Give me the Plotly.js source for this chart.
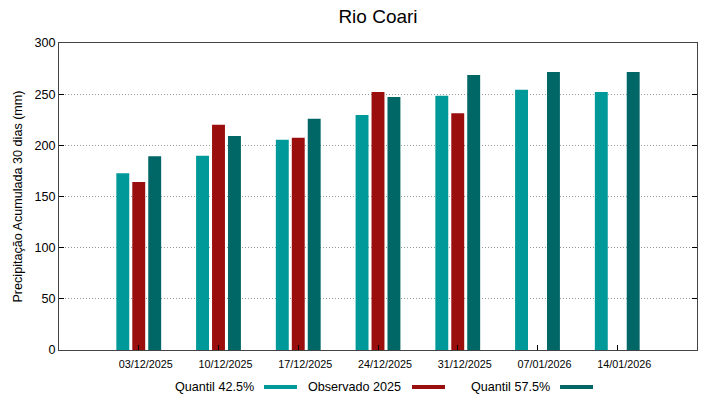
<!DOCTYPE html>
<html>
<head>
<meta charset="utf-8">
<script src="https://cdn.plot.ly/plotly-3.0.1.min.js"></script>
<style>html,body{margin:0;padding:0;background:#fff;}#chart{width:719px;height:399px;}</style>
</head>
<body>
<div id="chart"></div>
<script>
const categories = ["03/12/2025","10/12/2025","17/12/2025","24/12/2025","31/12/2025","07/01/2026","14/01/2026"];
const seriesNames = ["Quantil 42.5%","Observado 2025","Quantil 57.5%"];
const quantil425 = [172.7, 189.9, 205.5, 229.6, 248.5, 254.4, 252.1];
const observado2025 = [164.2, 220.0, 207.5, 252.1, 231.3, null, null];
const quantil575 = [189.3, 209.0, 226.0, 247.2, 268.7, 271.7, 271.7];
const colors = ["#009999", "#9a0e0e", "#006666"];
const yTicks = [0, 50, 100, 150, 200, 250, 300];

const seriesValues = [quantil425, observado2025, quantil575];
const traces = seriesValues.map((vals, i) => ({
  type: 'bar',
  name: seriesNames[i],
  x: categories,
  y: vals,
  marker: {color: colors[i], line: {width: 0}},
  hoverinfo: 'x+y+name'
}));

const font = "Liberation Sans, Arial, sans-serif";

// Custom legend (text followed by line sample, gnuplot-like)
const legendTextEnds = [0.3088, 0.539, 0.7727];
const legendLineStarts = [0.3213, 0.5533, 0.7853];
const legendLineLen = 0.0517;
const legendY = -0.1205;

const annotations = seriesNames.map((n, i) => ({
  text: n, xref: 'paper', yref: 'paper', x: legendTextEnds[i], y: legendY,
  xanchor: 'right', yanchor: 'middle', showarrow: false,
  font: {family: font, size: 12.6, color: '#000'}
}));
const shapes = seriesNames.map((n, i) => ({
  type: 'line', xref: 'paper', yref: 'paper',
  x0: legendLineStarts[i], x1: legendLineStarts[i] + legendLineLen,
  y0: legendY, y1: legendY,
  line: {color: colors[i], width: 4}
}));

const layout = {
  width: 719, height: 399,
  margin: {l: 59, r: 22, t: 43, b: 49, pad: 0},
  paper_bgcolor: '#fff', plot_bgcolor: '#fff',
  title: {text: 'Rio Coari', font: {family: font, size: 19, color: '#000'},
          xref: 'paper', x: 0.5, xanchor: 'center', yref: 'container', y: 1 - 16/399, yanchor: 'middle'},
  showlegend: false,
  barmode: 'group',
  bargap: 0.4,
  bargroupgap: 0.19,
  xaxis: {
    type: 'category', range: [-1, 7],
    showgrid: false, zeroline: false,
    showline: true, linecolor: '#444', linewidth: 1, mirror: true,
    ticks: 'inside', ticklen: 5, tickcolor: '#000', tickwidth: 1,
    tickfont: {family: font, size: 10.8, color: '#000'},
    ticklabelshift: 7, ticklabelstandoff: 4,
    fixedrange: true
  },
  yaxis: {
    range: [0, 300], tickvals: yTicks, ticktext: yTicks.map(String),
    showgrid: true, gridcolor: '#999999', griddash: '1px,2px', gridwidth: 1,
    zeroline: false,
    showline: true, linecolor: '#444', linewidth: 1, mirror: 'allticks',
    ticks: 'inside', ticklen: 5, tickcolor: '#000', tickwidth: 1,
    tickfont: {family: font, size: 12.6, color: '#000'},
    title: {text: 'Precipitação Acumulada 30 dias (mm)', font: {family: font, size: 12.6, color: '#000'}, standoff: 9},
    fixedrange: true
  },
  annotations: annotations,
  shapes: shapes
};

Plotly.newPlot('chart', traces, layout, {displayModeBar: false, staticPlot: true});
</script>
</body>
</html>
